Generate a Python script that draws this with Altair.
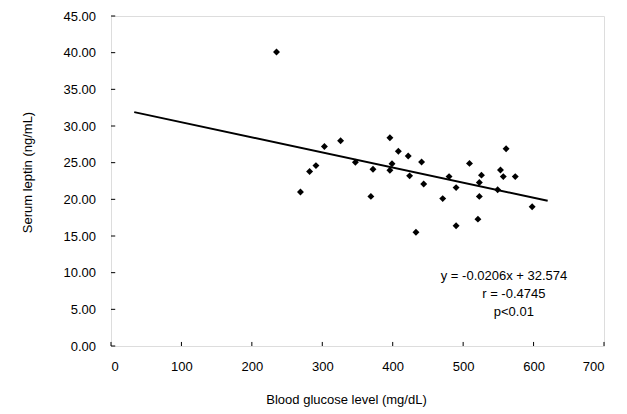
import altair as alt
import pandas as pd

# Scatter data (blood glucose mg/dL, serum leptin ng/mL)
glucose = [235, 269, 282, 291, 303, 326, 347, 372, 369, 396, 408, 399, 396,
           422, 441, 424, 444, 433, 471, 480, 490, 490, 509, 526, 523, 523,
           521, 549, 553, 557, 561, 574, 598]
leptin = [40.1, 21.0, 23.8, 24.6, 27.2, 28.0, 25.05, 24.1, 20.4, 28.4, 26.55,
          24.86, 23.96, 25.9, 25.1, 23.2, 22.1, 15.5, 20.1, 23.1, 21.6, 16.4,
          24.9, 23.3, 22.3, 20.4, 17.3, 21.3, 24.0, 23.1, 26.9, 23.1, 19.0]

# Regression line y = -0.0206x + 32.574
line_x = [33, 620]
line_y = [31.89, 19.80]

# Annotation
ann_text = ["y = -0.0206x + 32.574", "r = -0.4745", "p<0.01"]
ann_x = [558, 572, 572]
ann_y = [9.55, 7.05, 4.64]

x_ticks = [0, 100, 200, 300, 400, 500, 600, 700]
y_ticks = [0, 5, 10, 15, 20, 25, 30, 35, 40, 45]

FONT = "Liberation Sans"

pts = pd.DataFrame({"x": glucose, "y": leptin})
ln = pd.DataFrame({"x": line_x, "y": line_y})
ann = pd.DataFrame({"t": ann_text, "x": ann_x, "y": ann_y})
xt = pd.DataFrame({"x": x_ticks, "y": [0] * len(x_ticks), "y1": [0.55] * len(x_ticks)})
yt = pd.DataFrame({"y": y_ticks, "x": [0] * len(y_ticks), "x1": [6] * len(y_ticks)})

xscale = alt.Scale(domain=[0, 700], nice=False, zero=False)
yscale = alt.Scale(domain=[0, 45], nice=False, zero=False)

xaxis = alt.Axis(values=x_ticks, format="d", title="Blood glucose level (mg/dL)",
                 labelFont=FONT, labelFontSize=13, labelColor="black",
                 labelBaseline="middle", labelPadding=20.7, labelOverlap=False,
                 ticks=False, tickSize=0, domain=False, grid=False,
                 titleFont=FONT, titleFontSize=13, titleFontWeight="normal",
                 titleColor="black", titleX=235, titleY=53, titleBaseline="middle",
                 titleAlign="center")
yaxis = alt.Axis(values=y_ticks, format=".2f", title="Serum leptin (ng/mL)",
                 labelFont=FONT, labelFontSize=13, labelColor="black",
                 labelPadding=15.5, labelOverlap=False,
                 ticks=False, tickSize=0, domain=False, grid=False,
                 titleFont=FONT, titleFontSize=13, titleFontWeight="normal",
                 titleColor="black", titleX=-84, titleY=156, titleBaseline="middle",
                 titleAlign="center", titleAngle=270)

X = alt.X("x:Q", scale=xscale, axis=xaxis)
Y = alt.Y("y:Q", scale=yscale, axis=yaxis)

points = alt.Chart(pts).mark_point(shape="diamond", filled=True, color="black",
                                   size=48, opacity=1).encode(x=X, y=Y)

line = alt.Chart(ln).mark_line(color="black", strokeWidth=2).encode(x=X, y=Y)

xticks = alt.Chart(xt).mark_rule(color="black", strokeWidth=1).encode(
    x=X, y=Y, y2="y1:Q")
yticks = alt.Chart(yt).mark_rule(color="black", strokeWidth=1).encode(
    x=X, y=Y, x2="x1:Q")

text = alt.Chart(ann).mark_text(font=FONT, fontSize=13, color="black",
                                align="center", baseline="middle").encode(
    x=X, y=Y, text="t:N")

chart = alt.layer(points, xticks, yticks, line, text).properties(
    width=493, height=330,
    autosize=alt.AutoSizeParams(type="none"),
    padding={"left": 103, "top": 8, "right": 10, "bottom": 62},
).configure_view(stroke="black", strokeWidth=1.3).configure(background="white")

chart.save("out.html", embed_options={"renderer": "svg", "actions": False})
